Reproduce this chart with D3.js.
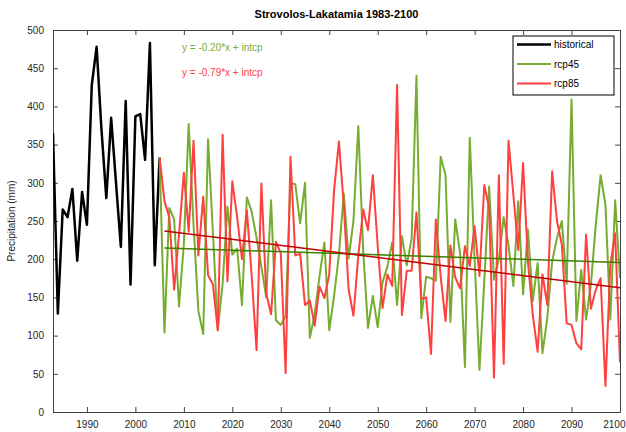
<!DOCTYPE html>
<html>
<head>
<meta charset="utf-8">
<script src="https://cdn.jsdelivr.net/npm/d3@7"></script>
<style>
  body { margin: 0; background: #fff; }
  text { font-family: 'Liberation Sans', Arial, sans-serif; }
</style>
</head>
<body>
<div class="canvas"></div>
<script>
// historical 1983-2005
const histYears = d3.range(1983, 2006);
const historical = [365, 129, 265, 255, 292, 198, 288, 245, 428, 478, 370, 280, 385, 300, 216, 407, 167, 387, 390, 330, 483, 192, 333];

// scenarios 2006-2100
const futYears = d3.range(2006, 2101);
const rcp45 = [
  104, 267, 252, 138, 220, 377, 245, 132, 102, 357,
  235, 107, 168, 269, 206, 214, 140, 281, 262, 228,
  190, 150, 277, 120, 114, 125, 300, 298, 247, 300,
  97, 128, 178, 222, 107, 152, 206, 286, 201, 250,
  374, 212, 110, 152, 111, 170, 190, 222, 140, 230,
  192, 227, 440, 123, 177, 175, 172, 334, 310, 118,
  252, 208, 59, 359, 200, 55, 172, 295, 173, 200,
  255, 218, 165, 276, 154, 239, 145, 195, 77, 123,
  197, 228, 250, 168, 409, 119, 186, 121, 167, 245,
  310, 271, 121, 277, 175
];
const rcp85 = [
  276, 255, 160, 232, 313, 236, 355, 205, 282, 179,
  167, 107, 363, 171, 302, 255, 200, 264, 178, 81,
  299, 155, 128, 223, 208, 51, 334, 205, 207, 140,
  146, 113, 164, 149, 180, 290, 354, 271, 160, 126,
  205, 265, 238, 310, 218, 136, 180, 165, 428, 127,
  185, 185, 261, 148, 150, 76, 252, 177, 119, 218,
  176, 162, 217, 191, 243, 178, 297, 267, 45, 310,
  63, 355, 284, 212, 326, 197, 127, 79, 180, 140,
  315, 250, 219, 116, 114, 90, 82, 232, 135, 160,
  175, 34, 193, 234, 65
];

// slopes shown in the annotations
const slopes = { rcp45: -0.20, rcp85: -0.79 };

const xTicks = d3.range(1990, 2101, 10);
const yTicks = d3.range(0, 501, 50);

const dimensions = { width: 626, height: 432 };
const margin = { left: 53, right: 6, top: 30, bottom: 20 };
const colors = { historical: '#000000', rcp45: '#77ac30', rcp85: '#ff4040', trend45: '#3f7f00', trend85: '#c00000' };

const svg = d3
  .select('.canvas')
  .append('svg')
  .attr('width', dimensions.width)
  .attr('height', dimensions.height);

const x = d3.scaleLinear().domain([1983, 2100]).range([margin.left, dimensions.width - margin.right]);
const y = d3.scaleLinear().domain([0, 500]).range([dimensions.height - margin.bottom, margin.top]);

const axisColor = '#404040';

// axes, ticks pointing inwards like matlab
const bottomAxis = svg.append('g')
  .attr('transform', `translate(0, ${y(0)})`)
  .call(d3.axisBottom(x).tickValues(xTicks).tickFormat(d3.format('d')).tickSizeInner(-5).tickSizeOuter(0).tickPadding(9));
const topAxis = svg.append('g')
  .attr('transform', `translate(0, ${y(500)})`)
  .call(d3.axisTop(x).tickValues(xTicks).tickFormat('').tickSizeInner(-5).tickSizeOuter(0));
const leftAxis = svg.append('g')
  .attr('transform', `translate(${x(1983)}, 0)`)
  .call(d3.axisLeft(y).tickValues(yTicks).tickSizeInner(-5).tickSizeOuter(0).tickPadding(9));
const rightAxis = svg.append('g')
  .attr('transform', `translate(${x(2100)}, 0)`)
  .call(d3.axisRight(y).tickValues(yTicks).tickFormat('').tickSizeInner(-5).tickSizeOuter(0));

[bottomAxis, topAxis, leftAxis, rightAxis].forEach((g) => {
  g.selectAll('path, line').attr('stroke', axisColor);
  g.selectAll('text').attr('fill', '#262626').style('font-size', '10px').style('font-family', "'Liberation Sans', Arial, sans-serif");
});

// last year label sits at the page edge, keep it inside
bottomAxis.selectAll('.tick text')
  .filter((d) => d === 2100)
  .attr('text-anchor', 'end')
  .attr('dx', dimensions.width - 1 - x(2100));

const clip = svg.append('clipPath').attr('id', 'plotclip')
  .append('rect')
  .attr('x', x(1983)).attr('y', y(500))
  .attr('width', x(2100) - x(1983)).attr('height', y(0) - y(500));

const plot = svg.append('g').attr('clip-path', 'url(#plotclip)');

const line = d3.line().x((d) => x(d[0])).y((d) => y(d[1]));

const last = [histYears[histYears.length - 1], historical[historical.length - 1]];
const histData = histYears.map((yr, i) => [yr, historical[i]]);
const data45 = [last, ...futYears.map((yr, i) => [yr, rcp45[i]])];
const data85 = [last, ...futYears.map((yr, i) => [yr, rcp85[i]])];

plot.append('path').datum(histData).attr('d', line)
  .attr('fill', 'none').attr('stroke', colors.historical).attr('stroke-width', 2.5).attr('stroke-linejoin', 'round');
plot.append('path').datum(data45).attr('d', line)
  .attr('fill', 'none').attr('stroke', colors.rcp45).attr('stroke-width', 2).attr('stroke-linejoin', 'round');
plot.append('path').datum(data85).attr('d', line)
  .attr('fill', 'none').attr('stroke', colors.rcp85).attr('stroke-width', 2).attr('stroke-linejoin', 'round');

// trend: given slope, intercept through the mean of the series
const trend = (values, slope) => {
  const intcp = d3.mean(values) - slope * d3.mean(futYears);
  const x0 = futYears[0], x1 = futYears[futYears.length - 1];
  return [[x0, slope * x0 + intcp], [x1, slope * x1 + intcp]];
};

plot.append('path').datum(trend(rcp45, slopes.rcp45)).attr('d', line)
  .attr('fill', 'none').attr('stroke', colors.trend45).attr('stroke-width', 1.5);
plot.append('path').datum(trend(rcp85, slopes.rcp85)).attr('d', line)
  .attr('fill', 'none').attr('stroke', colors.trend85).attr('stroke-width', 1.5);

// annotations
svg.append('text').attr('x', 182).attr('y', 51).attr('fill', colors.rcp45).style('font-size', '10px')
  .text(`y = ${slopes.rcp45.toFixed(2)}*x + intcp`);
svg.append('text').attr('x', 182).attr('y', 76).attr('fill', colors.rcp85).style('font-size', '10px')
  .text(`y = ${slopes.rcp85.toFixed(2)}*x + intcp`);

// title + y label
svg.append('text').attr('x', (x(1983) + x(2100)) / 2).attr('y', 18).attr('text-anchor', 'middle')
  .style('font-size', '11px').style('font-weight', 'bold').attr('fill', '#000')
  .text('Strovolos-Lakatamia 1983-2100');
svg.append('text').attr('transform', `translate(15, ${(y(0) + y(500)) / 2}) rotate(-90)`)
  .attr('text-anchor', 'middle').style('font-size', '10px').attr('fill', '#262626')
  .text('Precipitation (mm)');

// legend
const legendItems = [
  { name: 'historical', color: colors.historical, width: 2.5 },
  { name: 'rcp45', color: colors.rcp45, width: 2 },
  { name: 'rcp85', color: colors.rcp85, width: 2 }
];
const legendGroup = svg.append('g').attr('transform', 'translate(513, 36)');
legendGroup.append('rect').attr('width', 101).attr('height', 59)
  .attr('fill', '#fff').attr('stroke', '#000').attr('stroke-width', 1);
const rows = legendGroup.selectAll('g.row').data(legendItems).enter().append('g')
  .attr('transform', (d, i) => `translate(0, ${8.5 + i * 19.5})`);
rows.append('line').attr('x1', 4).attr('x2', 38).attr('y1', 0).attr('y2', 0)
  .attr('stroke', (d) => d.color).attr('stroke-width', (d) => d.width);
rows.append('text').attr('x', 41).attr('y', 3.5).style('font-size', '10px').attr('fill', '#000')
  .text((d) => d.name);
</script>
</body>
</html>
